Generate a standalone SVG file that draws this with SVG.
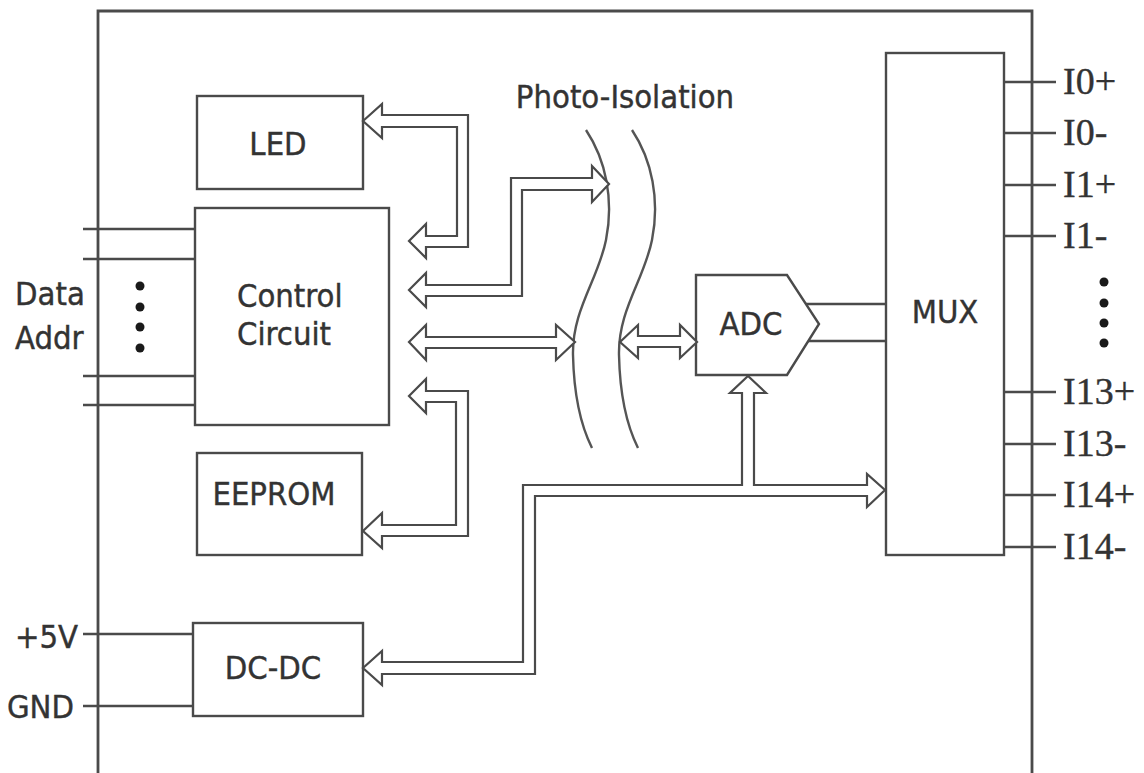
<svg xmlns="http://www.w3.org/2000/svg" width="1144" height="773" viewBox="0 0 1144 773">
<style>
  .box { fill: #fff; stroke: #4a4a4a; stroke-width: 2.4; }
  .ln { fill: none; stroke: #4a4a4a; stroke-width: 2.4; }
  .bus { fill: #fff; stroke: #4a4a4a; stroke-width: 2.2; stroke-linejoin: miter; }
  .curve { fill: none; stroke: #555; stroke-width: 2.4; }
  .t { font-family: "DejaVu Sans Condensed", "DejaVu Sans", sans-serif; font-stretch: condensed; font-size: 32.5px; fill: #333; stroke: #333; stroke-width: 0.4; }
  .s { font-family: "Liberation Serif", "DejaVu Serif", serif; font-size: 38px; fill: #333; stroke: #333; stroke-width: 0.4; }
  .dot { fill: #1a1a1a; }
</style>
<rect width="1144" height="773" fill="#fff"/>

<g id="frame">
  <polyline class="ln" points="98,773 98,11 1032,11 1032,773" style="stroke-width:2.8"/>
</g>

<g id="io-lines">
  <line class="ln" x1="83" y1="229" x2="195" y2="229"/>
  <line class="ln" x1="83" y1="259" x2="195" y2="259"/>
  <line class="ln" x1="83" y1="376" x2="195" y2="376"/>
  <line class="ln" x1="83" y1="405" x2="195" y2="405"/>
  <line class="ln" x1="83" y1="634" x2="193" y2="634"/>
  <line class="ln" x1="83" y1="706" x2="193" y2="706"/>
  <line class="ln" x1="1004" y1="82" x2="1056" y2="82"/>
  <line class="ln" x1="1004" y1="133" x2="1056" y2="133"/>
  <line class="ln" x1="1004" y1="185" x2="1056" y2="185"/>
  <line class="ln" x1="1004" y1="236" x2="1056" y2="236"/>
  <line class="ln" x1="1004" y1="392" x2="1056" y2="392"/>
  <line class="ln" x1="1004" y1="444" x2="1056" y2="444"/>
  <line class="ln" x1="1004" y1="495" x2="1056" y2="495"/>
  <line class="ln" x1="1004" y1="547" x2="1056" y2="547"/>
</g>

<g id="led">
  <rect class="box" x="197" y="96" width="166" height="93"/>
  <text class="t" x="278" y="155" text-anchor="middle">LED</text>
</g>

<g id="control-circuit">
  <rect class="box" x="195" y="208" width="194" height="217"/>
  <text class="t" x="237" y="307">Control</text>
  <text class="t" x="237" y="345">Circuit</text>
</g>

<g id="eeprom">
  <rect class="box" x="197" y="453" width="165" height="102"/>
  <text class="t" x="274" y="505" text-anchor="middle">EEPROM</text>
</g>

<g id="dc-dc">
  <rect class="box" x="193" y="623" width="170" height="93"/>
  <text class="t" x="273" y="679" text-anchor="middle">DC-DC</text>
</g>

<g id="photo-isolation">
  <path class="curve" d="M586,130 C606,160 614,200 606,240 C598,280 572,310 573,355 C574,400 583,430 592,448"/>
  <path class="curve" d="M632,130 C652,160 660,200 652,240 C644,280 618,310 619,355 C620,400 629,430 638,448"/>
  <text class="t" x="625" y="108" text-anchor="middle">Photo-Isolation</text>
</g>

<g id="adc">
  <polygon class="box" points="696,275 787,275 819,324 787,375 696,375"/>
  <text class="t" x="751" y="335" text-anchor="middle">ADC</text>
</g>

<g id="mux">
  <rect class="box" x="886" y="53" width="118" height="502"/>
  <text class="t" x="945" y="323" text-anchor="middle">MUX</text>
</g>

<g id="connectors">
  <line class="ln" x1="806" y1="304" x2="886" y2="304"/>
  <line class="ln" x1="808" y1="341" x2="886" y2="341"/>
  <polygon class="bus" points="363,121 382,104 382,115 468,115 468,247 426,247 426,258 409,241 426,224 426,236 457,236 457,127 382,127 382,138"/>
  <polygon class="bus" points="409,290 426,273 426,285 511,285 511,178 592,178 592,166 609,184 592,202 592,190 522,190 522,296 426,296 426,307"/>
  <polygon class="bus" points="409,342 426,325 426,337 556,337 556,325 575,342 556,360 556,348 426,348 426,360"/>
  <polygon class="bus" points="409,396 426,379 426,391 468,391 468,536 382,536 382,548 363,531 382,513 382,525 456,525 456,402 426,402 426,413"/>
  <polygon class="bus" points="620,342 638,325 638,336 680,336 680,325 697,342 680,358 680,347 638,347 638,358"/>
  <polygon class="bus" points="363,668 382,651 382,662 523,662 523,485 742,485 742,393 730,393 748,376 766,393 754,393 754,485 867,485 867,474 885,490 867,507 867,496 535,496 535,674 382,674 382,685"/>
</g>

<g id="labels">
  <text class="t" x="15" y="305">Data</text>
  <text class="t" x="15" y="349">Addr</text>
  <text class="t" x="78" y="648" text-anchor="end">+5V</text>
  <text class="t" x="74" y="718" text-anchor="end">GND</text>
  <circle class="dot" cx="140" cy="286" r="4.5"/>
  <circle class="dot" cx="140" cy="307" r="4.5"/>
  <circle class="dot" cx="140" cy="327" r="4.5"/>
  <circle class="dot" cx="140" cy="348" r="4.5"/>
  <circle class="dot" cx="1104" cy="282" r="4.5"/>
  <circle class="dot" cx="1104" cy="303" r="4.5"/>
  <circle class="dot" cx="1104" cy="323" r="4.5"/>
  <circle class="dot" cx="1104" cy="343" r="4.5"/>
  <text class="s" x="1063" y="94">I0+</text>
  <text class="s" x="1063" y="145">I0-</text>
  <text class="s" x="1063" y="197">I1+</text>
  <text class="s" x="1063" y="248">I1-</text>
  <text class="s" x="1063" y="404">I13+</text>
  <text class="s" x="1063" y="456">I13-</text>
  <text class="s" x="1063" y="507">I14+</text>
  <text class="s" x="1063" y="559">I14-</text>
</g>
</svg>
